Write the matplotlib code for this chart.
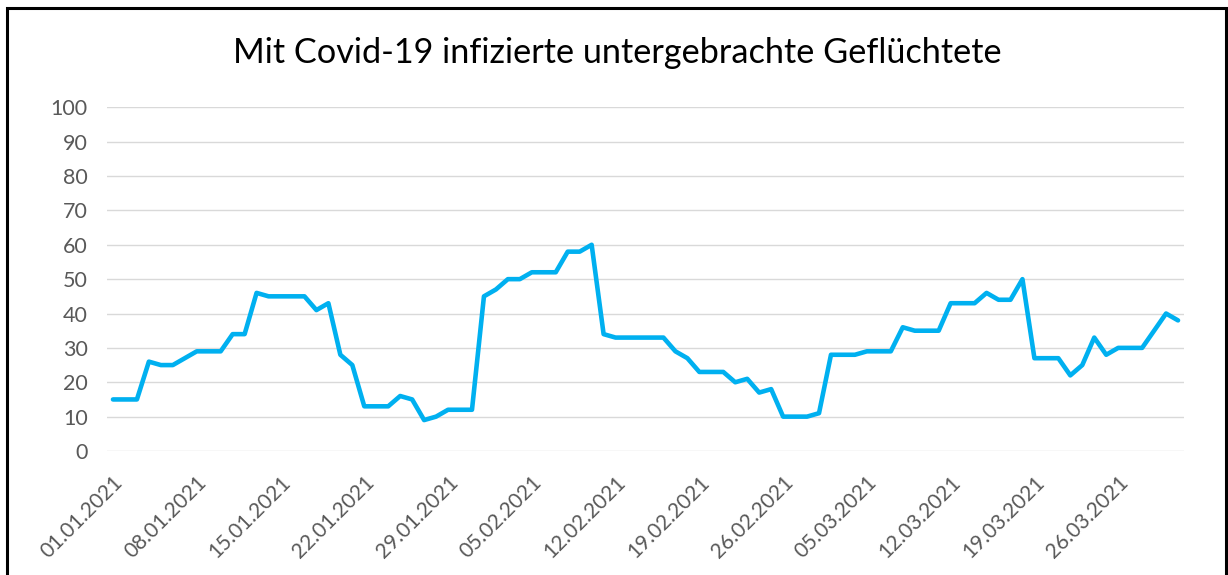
import numpy as np
import pandas as pd
import matplotlib
matplotlib.use('Agg')
import matplotlib.pyplot as plt
from matplotlib.patches import Rectangle

# daily counts, 01.01.2021 - 31.03.2021
dates = pd.date_range('2021-01-01', '2021-03-31', freq='D')
infected = [
    15, 15, 15, 26, 25, 25, 27, 29, 29, 29,
    34, 34, 46, 45, 45, 45, 45, 41, 43, 28,
    25, 13, 13, 13, 16, 15, 9, 10, 12, 12,
    12, 45, 47, 50, 50, 52, 52, 52, 58, 58,
    60, 34, 33, 33, 33, 33, 33, 29, 27, 23,
    23, 23, 20, 21, 17, 18, 10, 10, 10, 11,
    28, 28, 28, 29, 29, 29, 36, 35, 35, 35,
    43, 43, 43, 46, 44, 44, 50, 27, 27, 27,
    22, 25, 33, 28, 30, 30, 30, 35, 40, 38,
]
title = 'Mit Covid-19 infizierte untergebrachte Geflüchtete'

plt.rcParams['font.family'] = ['Lato', 'DejaVu Sans']

W, H = 1228, 575
fig = plt.figure(figsize=(W / 100, H / 100), dpi=100)
ax = fig.add_axes([107 / W, 1 - 451 / H, (1184 - 107) / W, (451 - 107.3) / H])

x = np.arange(len(infected))
ax.plot(x, infected, color='#00B0F0', linewidth=3.3,
        solid_capstyle='round', solid_joinstyle='round', zorder=3)

ax.set_xlim(-0.5, len(infected) - 0.5)
ax.set_ylim(0, 100)
ax.set_yticks(range(0, 101, 10))
ax.yaxis.grid(True, color='#D9D9D9', linewidth=1.0)
ax.set_axisbelow(True)
for s in ax.spines.values():
    s.set_visible(False)

tick_pos = x[::7]
ax.set_xticks(tick_pos)
ax.set_xticklabels([d.strftime('%d.%m.%Y') for d in dates[::7]],
                   rotation=45, ha='right', rotation_mode='anchor')
ax.tick_params(axis='x', length=0, pad=15, labelsize=15, labelcolor='#595959')
ax.tick_params(axis='y', length=0, pad=14, labelsize=15.5, labelcolor='#595959')

fig.text(617 / W, 1 - 53 / H, title, ha='center', va='center',
         fontsize=24.7, color='#000000')

fig.patches.append(Rectangle((7 / W, -0.1), (1226 - 7) / W, 1.1 - 8 / H,
                             transform=fig.transFigure, fill=False,
                             edgecolor='black', linewidth=2.2))

fig.savefig('out.png', dpi=100)
